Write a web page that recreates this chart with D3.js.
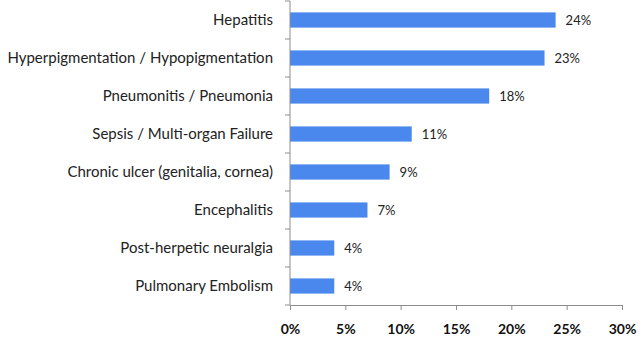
<!DOCTYPE html>
<html>
<head>
<meta charset="utf-8">
<script src="https://cdn.jsdelivr.net/npm/d3@7"></script>
<style>
  body { margin: 0; background: #fff; }
  svg { display: block; }
</style>
</head>
<body>
<svg width="640" height="346"></svg>
<script>
// Complication categories and their share of cases
const categories = [
  "Hepatitis",
  "Hyperpigmentation / Hypopigmentation",
  "Pneumonitis / Pneumonia",
  "Sepsis / Multi-organ Failure",
  "Chronic ulcer (genitalia, cornea)",
  "Encephalitis",
  "Post-herpetic neuralgia",
  "Pulmonary Embolism"
];
const values = [24, 23, 18, 11, 9, 7, 4, 4];
const xTicks = [0, 5, 10, 15, 20, 25, 30];

const svg = d3.select("svg");
const margin = {left: 290, right: 18, top: 1, bottom: 41};
const width = 640, height = 346;

let x = d3.scaleLinear()
    .domain([0, 30])
    .range([margin.left, width - margin.right]);

let y = d3.scaleBand()
    .domain(categories)
    .range([margin.top, height - margin.bottom])
    .paddingInner(0.6)
    .paddingOuter(0.3);

// bars
svg.selectAll(".bar")
    .data(values)
    .enter()
    .append("rect")
    .attr("class", "bar")
    .attr("x", x(0))
    .attr("y", (d, i) => y(categories[i]))
    .attr("width", d => x(d) - x(0))
    .attr("height", y.bandwidth())
    .attr("fill", "#4a88ee");

// value labels
svg.selectAll(".val")
    .data(values)
    .enter()
    .append("text")
    .attr("class", "val")
    .attr("x", d => x(d) + 10)
    .attr("y", (d, i) => y(categories[i]) + y.bandwidth() / 2)
    .attr("dy", "0.35em")
    .attr("font-family", "Lato, sans-serif")
    .attr("font-size", 13)
    .attr("fill", "#222")
    .text(d => d + "%");

// y axis: line plus ticks between categories
let yTop = margin.top, yBot = height - margin.bottom;
svg.append("line")
    .attr("x1", x(0)).attr("x2", x(0))
    .attr("y1", yTop).attr("y2", yBot)
    .attr("stroke", "#8c8c8c");
svg.selectAll(".ytick")
    .data(d3.range(categories.length + 1))
    .enter()
    .append("line")
    .attr("x1", x(0) - 5).attr("x2", x(0))
    .attr("y1", i => yTop + i * (yBot - yTop) / categories.length)
    .attr("y2", i => yTop + i * (yBot - yTop) / categories.length)
    .attr("stroke", "#8c8c8c");

svg.selectAll(".cat")
    .data(categories)
    .enter()
    .append("text")
    .attr("class", "cat")
    .attr("x", x(0) - 17)
    .attr("y", d => y(d) + y.bandwidth() / 2)
    .attr("dy", "0.35em")
    .attr("text-anchor", "end")
    .attr("font-family", "Lato, sans-serif")
    .attr("font-size", 15)
    .attr("fill", "#222")
    .text(d => d);

// x axis
let xAxis = d3.axisBottom(x)
    .tickValues(xTicks)
    .tickSize(5)
    .tickSizeOuter(0)
    .tickPadding(14)
    .tickFormat(d => d + "%");

let gx = svg.append("g")
    .attr("transform", `translate(0,${yBot})`)
    .call(xAxis);
gx.select(".domain").attr("stroke", "#8c8c8c");
gx.selectAll(".tick line").attr("stroke", "#8c8c8c");
gx.selectAll(".tick text")
    .attr("font-family", "Lato, sans-serif")
    .attr("font-size", 14)
    .attr("font-weight", "bold")
    .attr("fill", "#111");
</script>
</body>
</html>
